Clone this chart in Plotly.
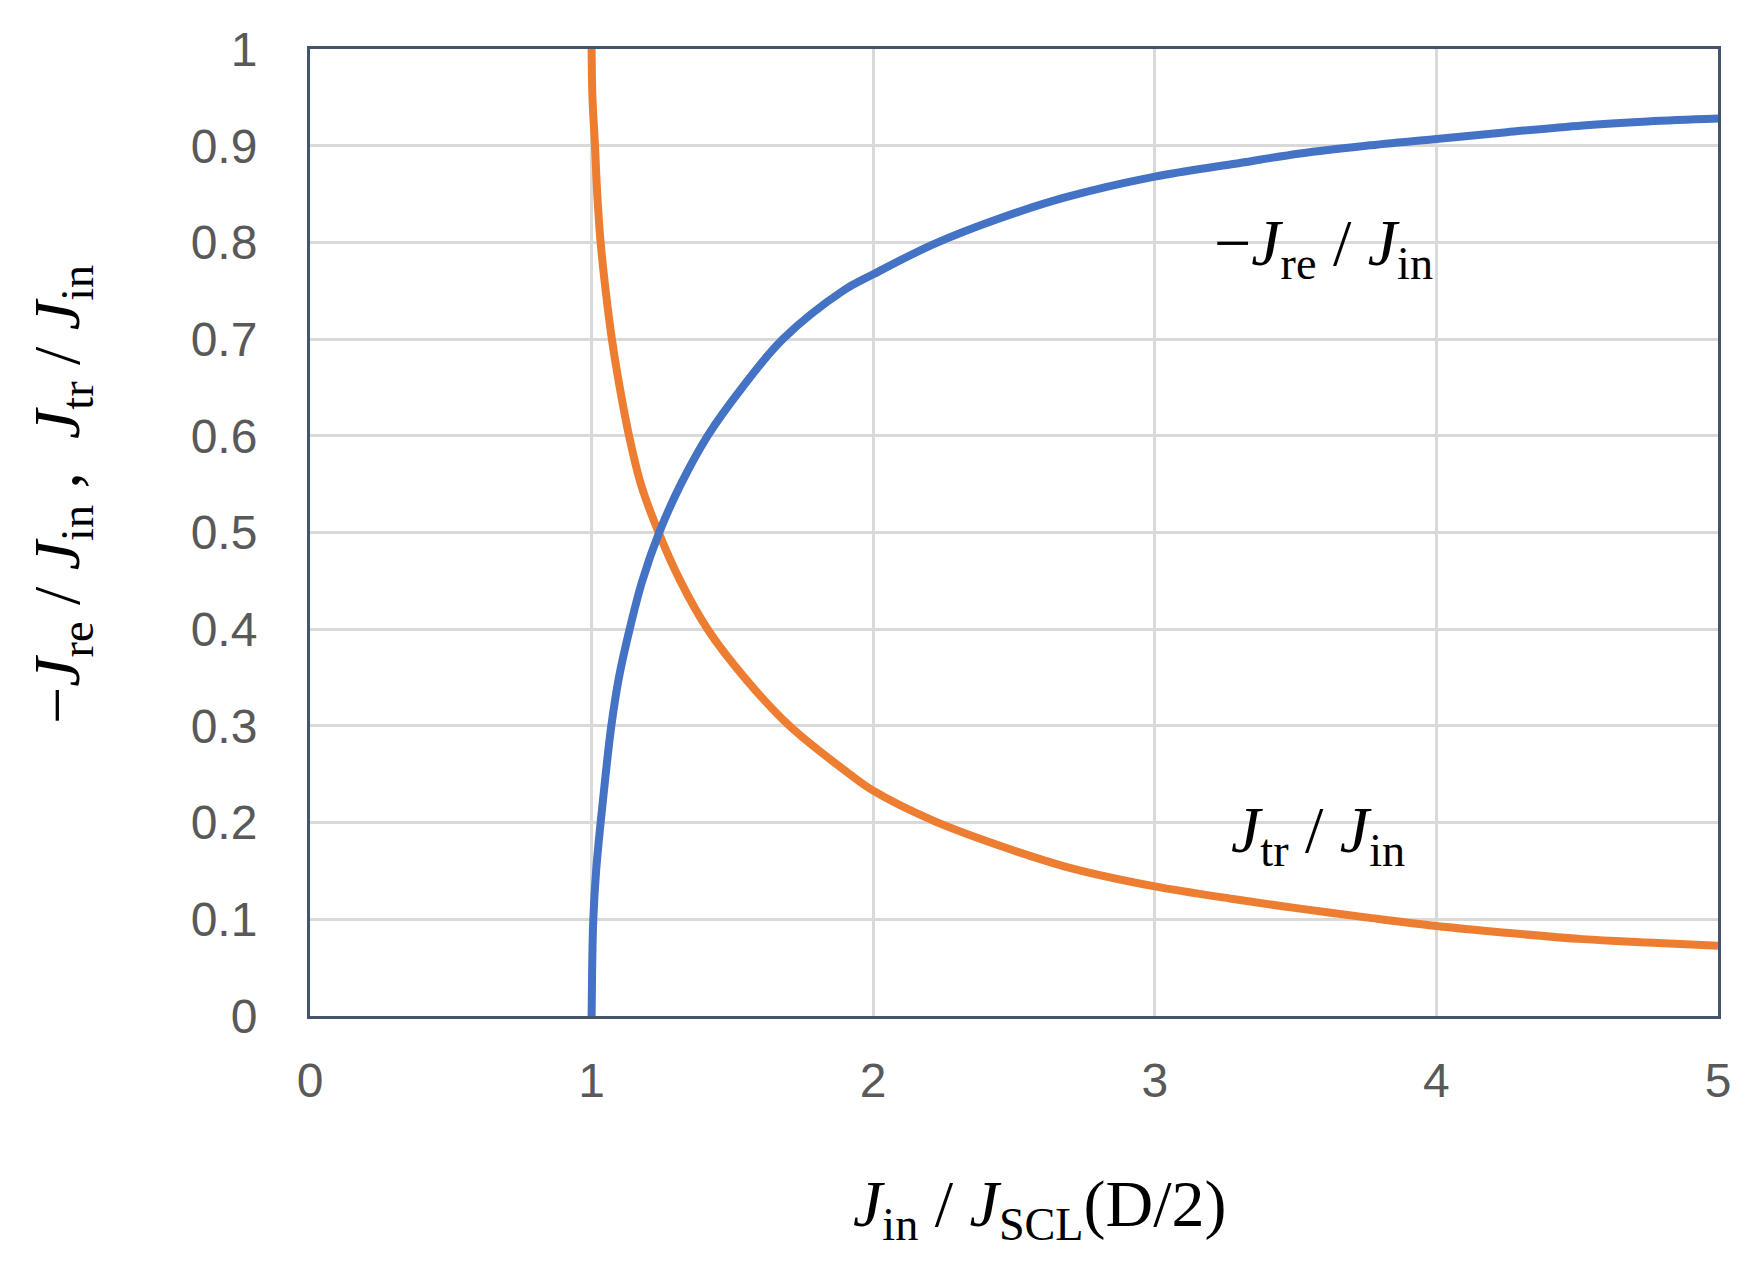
import plotly.graph_objects as go

# Data
x_tr = [1.000, 1.003, 1.012, 1.020, 1.032, 1.050, 1.072, 1.100, 1.133, 1.175,
        1.238, 1.315, 1.412, 1.543, 1.703, 1.917, 2.000, 2.213, 2.450, 2.688,
        3.000, 3.278, 3.516, 3.750, 4.000, 4.250, 4.520, 4.750, 5.000]
j_tr = [1.000, 0.950, 0.900, 0.850, 0.800, 0.750, 0.700, 0.650, 0.600, 0.550,
        0.500, 0.450, 0.400, 0.350, 0.300, 0.250, 0.233, 0.202, 0.176, 0.154,
        0.134, 0.121, 0.111, 0.102, 0.093, 0.086, 0.0795, 0.076, 0.0726]
x_re = [1.000, 1.002, 1.006, 1.016, 1.032, 1.050, 1.070, 1.097, 1.135, 1.180,
        1.240, 1.317, 1.412, 1.535, 1.679, 1.893, 2.000, 2.213, 2.450, 2.688,
        3.000, 3.278, 3.516, 3.750, 4.000, 4.250, 4.520, 4.750, 5.000]
j_re = [0.000, 0.050, 0.100, 0.150, 0.200, 0.250, 0.300, 0.350, 0.400, 0.450,
        0.500, 0.550, 0.600, 0.650, 0.700, 0.750, 0.767, 0.798, 0.825, 0.847,
        0.868, 0.881, 0.892, 0.900, 0.907, 0.914, 0.921, 0.925, 0.928]

x_ticks = [0, 1, 2, 3, 4, 5]
y_ticks = [0, 0.1, 0.2, 0.3, 0.4, 0.5, 0.6, 0.7, 0.8, 0.9, 1]
y_tick_text = ["0", "0.1", "0.2", "0.3", "0.4", "0.5", "0.6", "0.7", "0.8", "0.9", "1"]

BLUE = "#4472C4"
ORANGE = "#ED7D31"
AXIS = "#44546A"
GRID = "#D9D9D9"
TICK = "#595959"
SERIF = "Liberation Serif, Times New Roman, serif"

fig = go.Figure()
fig.add_trace(go.Scatter(x=x_tr, y=j_tr, mode="lines",
                         line=dict(color=ORANGE, width=8, shape="spline", smoothing=1.0),
                         name="J_tr/J_in"))
fig.add_trace(go.Scatter(x=x_re, y=j_re, mode="lines",
                         line=dict(color=BLUE, width=8, shape="spline", smoothing=1.0),
                         name="-J_re/J_in"))

fig.update_layout(
    width=1754, height=1268,
    margin=dict(l=310, r=36, t=49, b=252),
    paper_bgcolor="white", plot_bgcolor="white",
    showlegend=False,
    font=dict(family="Liberation Sans, Arial, sans-serif", color=TICK),
)
fig.update_xaxes(range=[0, 5], tickvals=x_ticks, showgrid=True, gridcolor=GRID, gridwidth=2.5,
                 showline=True, mirror=True, linecolor=AXIS, linewidth=3, zeroline=False,
                 tickfont=dict(size=48, color=TICK), ticks="", ticklabelstandoff=20)
fig.update_yaxes(range=[0, 1], tickvals=y_ticks, ticktext=y_tick_text, showgrid=True,
                 gridcolor=GRID, gridwidth=2.5, showline=True, mirror=True, linecolor=AXIS,
                 linewidth=3, zeroline=False, tickfont=dict(size=48, color=TICK), ticks="",
                 ticklabelstandoff=40)

fig.add_annotation(xref="paper", yref="paper", x=(1040 - 310) / 1408, y=-(1208 - 1016) / 967,
                   text="<i>J</i><sub>in</sub> / <i>J</i><sub>SCL</sub>(D/2)", showarrow=False,
                   font=dict(family=SERIF, size=66, color="black"), xanchor="center", yanchor="middle")
fig.add_annotation(xref="paper", yref="paper", x=-(310 - 62) / 1408, y=(1016 - 495) / 967,
                   text="−<i>J</i><sub>re</sub> / <i>J</i><sub>in</sub> ,  <i>J</i><sub>tr</sub> / <i>J</i><sub>in</sub>",
                   showarrow=False, textangle=-90,
                   font=dict(family=SERIF, size=66, color="black"), xanchor="center", yanchor="middle")
fig.add_annotation(x=3.6, y=0.795, xref="x", yref="y",
                   text="−<i>J</i><sub>re</sub> / <i>J</i><sub>in</sub>", showarrow=False,
                   font=dict(family=SERIF, size=66, color="black"), xanchor="center", yanchor="middle")
fig.add_annotation(x=3.58, y=0.188, xref="x", yref="y",
                   text="<i>J</i><sub>tr</sub> / <i>J</i><sub>in</sub>", showarrow=False,
                   font=dict(family=SERIF, size=66, color="black"), xanchor="center", yanchor="middle")

fig.write_html("out.html", config={"displayModeBar": False},
               post_script="document.body.style.margin='0';document.body.style.overflow='hidden';")
